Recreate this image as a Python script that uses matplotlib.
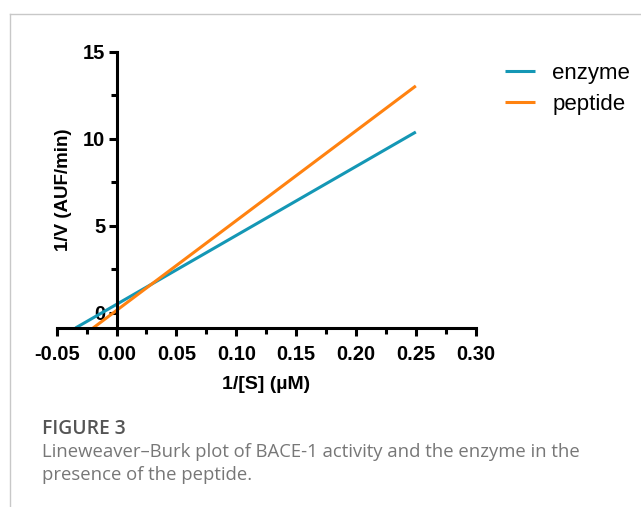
import matplotlib.pyplot as plt
from matplotlib.ticker import MultipleLocator, FixedLocator

# Data (line endpoints)
enzyme_x = [-0.0343, 0.25]
enzyme_y = [-0.87, 10.4]
peptide_x = [-0.0196, 0.25]
peptide_y = [-0.87, 13.05]
series_names = ["enzyme", "peptide"]
xticks = [-0.05, 0.00, 0.05, 0.10, 0.15, 0.20, 0.25, 0.30]
yticks = [0, 5, 10, 15]

teal = "#1497b5"
orange = "#ff8210"

plt.rcParams['font.family'] = ['Liberation Sans', 'DejaVu Sans']

fig = plt.figure(figsize=(6.41, 5.07), dpi=100)
W, H = 641, 507

# outer frame (left and top borders)
fig.add_artist(plt.Line2D([9.5 / W, 9.5 / W], [0, 1 - 13.5 / H], transform=fig.transFigure,
                          color="#c8c8c8", lw=1))
fig.add_artist(plt.Line2D([9.5 / W, 1], [1 - 13.5 / H, 1 - 13.5 / H], transform=fig.transFigure,
                          color="#c8c8c8", lw=1))

ax_left, ax_right = 56.7, 475.7
ax_top, ax_bot = 52, 328
ax = fig.add_axes([ax_left / W, 1 - ax_bot / H, (ax_right - ax_left) / W, (ax_bot - ax_top) / H])
ax.set_xlim(-0.05, 0.30)
ax.set_ylim(-0.87, 15)

ax.plot(enzyme_x, enzyme_y, color=teal, lw=2.2, label=series_names[0], solid_capstyle='butt')
ax.plot(peptide_x, peptide_y, color=orange, lw=2.2, label=series_names[1], solid_capstyle='butt')

for s in ["top", "right"]:
    ax.spines[s].set_visible(False)
ax.spines["left"].set_position(("data", 0))
ax.spines["left"].set_bounds(-0.87, 15)
ax.spines["left"].set_linewidth(2.2)
ax.spines["bottom"].set_linewidth(2.2)

ax.xaxis.set_major_locator(FixedLocator(xticks))
ax.xaxis.set_minor_locator(MultipleLocator(0.025))
ax.yaxis.set_major_locator(FixedLocator(yticks))
ax.yaxis.set_minor_locator(FixedLocator([2.5, 7.5, 12.5]))
ax.set_xticklabels([f"{v:.2f}" for v in xticks], fontsize=14.5, fontweight='bold')
ax.set_yticklabels([str(v) for v in yticks], fontsize=14.5, fontweight='bold')
ax.tick_params(axis='both', which='major', width=2.2, length=6, pad=2)
ax.tick_params(axis='x', which='major', pad=6)
ax.tick_params(axis='both', which='minor', width=2.2, length=4)

ax.set_xlabel("1/[S] (µM)", fontsize=14, fontweight='bold', labelpad=9)
fig.text(64 / W, 1 - 190 / H, "1/V (AUF/min)", rotation=90, fontsize=13.5, fontweight='bold',
         ha='center', va='center')

leg = ax.legend(loc='upper left', bbox_to_anchor=(505 / W, 1 - 63 / H), bbox_transform=fig.transFigure,
                frameon=False, fontsize=16, handlelength=1.36, handletextpad=0.77, labelspacing=0.45,
                borderpad=0, borderaxespad=0)

cap = ['Open Sans', 'DejaVu Sans']
fig.text(42 / W, 1 - 429 / H, "FIGURE 3", fontsize=13.9, color="#555555",
         family=cap, va='center', fontweight='semibold')
fig.text(42 / W, 1 - 452 / H, "Lineweaver\u2013Burk plot of BACE-1 activity and the enzyme in the",
         fontsize=13.3, color="#777777", family=cap, va='center')
fig.text(42 / W, 1 - 475 / H, "presence of the peptide.",
         fontsize=13.3, color="#777777", family=cap, va='center')

fig.savefig("out.png", dpi=100)
